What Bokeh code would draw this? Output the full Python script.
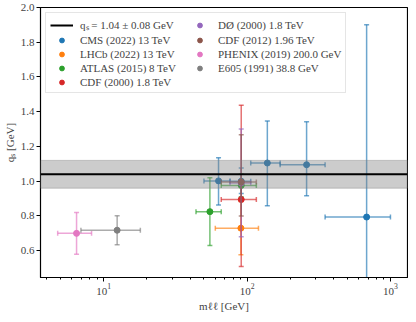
import math
from bokeh.plotting import figure
from bokeh.models import (ColumnDataSource, Range1d, Span, BoxAnnotation, Legend,
                          LegendItem, FixedTicker, PrintfTickFormatter, LogTicker)
from bokeh.embed import file_html
from bokeh.resources import INLINE

# ---- data ----
qs_value = 1.04
qs_err = 0.08

labels = ["CMS (2022) 13 TeV", "LHCb (2022) 13 TeV", "ATLAS (2015) 8 TeV",
          "CDF (2000) 1.8 TeV", "D\u00d8 (2000) 1.8 TeV", "CDF (2012) 1.96 TeV",
          "PHENIX (2019) 200.0 GeV", "E605 (1991) 38.8 GeV"]
colors = ["#1f77b4", "#ff7f0e", "#2ca02c", "#d62728", "#9467bd", "#8c564b",
          "#e377c2", "#7f7f7f"]

cms_m = [63.2, 91.0, 138.4, 260.0, 682.0]
cms_mlo = [50.0, 76.0, 106.0, 170.0, 350.0]
cms_mhi = [76.0, 106.0, 170.0, 350.0, 1000.0]
cms_q = [1.002, 1.0, 1.105, 1.095, 0.794]
cms_qlo = [0.139, 0.07, 0.246, 0.179, 1.106]
cms_qhi = [0.133, 0.076, 0.242, 0.248, 1.106]

lhcb_m = [90.5]
lhcb_mlo = [60.0]
lhcb_mhi = [120.0]
lhcb_q = [0.73]
lhcb_qlo = [0.153]
lhcb_qhi = [0.153]

atlas_m = [55.0, 91.0]
atlas_mlo = [44.0, 66.0]
atlas_mhi = [66.0, 116.0]
atlas_q = [0.825, 0.976]
atlas_qlo = [0.195, 0.065]
atlas_qhi = [0.195, 0.065]

cdf00_m = [91.0]
cdf00_mlo = [66.0]
cdf00_mhi = [116.0]
cdf00_q = [0.895]
cdf00_qlo = [0.386]
cdf00_qhi = [0.543]

d0_m = [91.0]
d0_mlo = [76.0]
d0_mhi = [106.0]
d0_q = [0.99]
d0_qlo = [0.31]
d0_qhi = [0.31]

cdf12_m = [91.0]
cdf12_mlo = [66.0]
cdf12_mhi = [116.0]
cdf12_q = [0.996]
cdf12_qlo = [0.196]
cdf12_qhi = [0.271]

phenix_m = [6.46]
phenix_mlo = [4.77]
phenix_mhi = [8.22]
phenix_q = [0.70]
phenix_qlo = [0.12]
phenix_qhi = [0.12]

e605_m = [12.4]
e605_mlo = [6.93]
e605_mhi = [18.0]
e605_q = [0.718]
e605_qlo = [0.084]
e605_qhi = [0.084]

y_ticks = [0.6, 0.8, 1.0, 1.2, 1.4, 1.6, 1.8, 2.0]
x_lim = (3.62, 1315.0)
y_lim = (0.446, 2.0)

series = [
    (cms_m, cms_mlo, cms_mhi, cms_q, cms_qlo, cms_qhi),
    (lhcb_m, lhcb_mlo, lhcb_mhi, lhcb_q, lhcb_qlo, lhcb_qhi),
    (atlas_m, atlas_mlo, atlas_mhi, atlas_q, atlas_qlo, atlas_qhi),
    (cdf00_m, cdf00_mlo, cdf00_mhi, cdf00_q, cdf00_qlo, cdf00_qhi),
    (d0_m, d0_mlo, d0_mhi, d0_q, d0_qlo, d0_qhi),
    (cdf12_m, cdf12_mlo, cdf12_mhi, cdf12_q, cdf12_qlo, cdf12_qhi),
    (phenix_m, phenix_mlo, phenix_mhi, phenix_q, phenix_qlo, phenix_qhi),
    (e605_m, e605_mlo, e605_mhi, e605_q, e605_qlo, e605_qhi),
]

FONT = "Liberation Serif"

p = figure(frame_width=367, frame_height=270, x_axis_type="log",
           x_range=Range1d(*x_lim), y_range=Range1d(*y_lim),
           output_backend="svg", toolbar_location=None,
           min_border_left=33, min_border_right=1, min_border_top=7,
           min_border_bottom=20)
p.xgrid.visible = False
p.ygrid.visible = False
p.outline_line_color = "black"
p.outline_line_width = 1.2
p.outline_line_alpha = 1.0

band = BoxAnnotation(bottom=qs_value - qs_err, top=qs_value + qs_err,
                     fill_color="gray", fill_alpha=0.4,
                     line_color="gray", line_alpha=0.4, line_width=1)
p.add_layout(band)
span = Span(location=qs_value, dimension="width", line_color="black", line_width=2)
p.add_layout(span)

items = []
line_src = ColumnDataSource(dict(x=[x_lim[0]], y=[qs_value]))
line_leg = p.line(x="x", y="y", source=line_src, line_color="black", line_width=2)
items.append(LegendItem(label="q\u209b = %.2f \u00b1 %.2f GeV" % (qs_value, qs_err),
                        renderers=[line_leg]))

ea = 0.65
for (m, mlo, mhi, q, qlo, qhi), lab, col in zip(series, labels, colors):
    src = ColumnDataSource(dict(
        x=m, y=q, xlo=mlo, xhi=mhi,
        ylo=[a - b for a, b in zip(q, qlo)],
        yhi=[a + b for a, b in zip(q, qhi)]))
    p.segment(x0="xlo", y0="y", x1="xhi", y1="y", source=src,
              line_color=col, line_width=1.5, line_alpha=ea)
    p.segment(x0="x", y0="ylo", x1="x", y1="yhi", source=src,
              line_color=col, line_width=1.5, line_alpha=ea)
    for yy in ("ylo", "yhi"):
        p.scatter(x="x", y=yy, source=src, marker="dash", size=5,
                  line_color=col, line_width=1.5, line_alpha=ea)
    for xx in ("xlo", "xhi"):
        p.scatter(x=xx, y="y", source=src, marker="dash", size=5, angle=math.pi / 2,
                  line_color=col, line_width=1.5, line_alpha=ea)
    pts = p.scatter(x="x", y="y", source=src, marker="circle", size=6,
                    fill_color=col, line_color=col)
    items.append(LegendItem(label=lab, renderers=[pts]))

legend = Legend(items=items, location="top_left", nrows=5,
                label_text_font=FONT, label_text_font_size="11px",
                label_height=12, glyph_height=12, glyph_width=23,
                label_width=106, label_standoff=7, spacing=2, padding=4, margin=5,
                border_line_color="#cccccc", border_line_width=1,
                background_fill_alpha=0.85)
p.add_layout(legend)

for ax in (p.xaxis[0], p.yaxis[0]):
    ax.axis_line_color = "black"
    ax.major_tick_line_color = "black"
    ax.minor_tick_line_color = "black"
    ax.major_tick_out = 4
    ax.major_tick_in = 0
    ax.minor_tick_out = 2
    ax.minor_tick_in = 0
    ax.major_label_text_font = FONT
    ax.major_label_text_font_size = "11px"
    ax.axis_label_text_font = FONT
    ax.axis_label_text_font_size = "11px"
    ax.axis_label_text_font_style = "normal"

p.yaxis.ticker = FixedTicker(ticks=y_ticks, minor_ticks=[])
p.yaxis.formatter = PrintfTickFormatter(format="%.1f")
p.yaxis.axis_label = "q\u209b [GeV]"
p.yaxis.axis_label_standoff = 2
p.yaxis.major_label_standoff = 2
p.xaxis.ticker = LogTicker(num_minor_ticks=10)
p.xaxis.axis_label = "m\u2113\u2113 [GeV]"
p.xaxis.axis_label_standoff = 2
p.xaxis.major_label_standoff = 2

open("out.html", "w").write(file_html(p, INLINE))
